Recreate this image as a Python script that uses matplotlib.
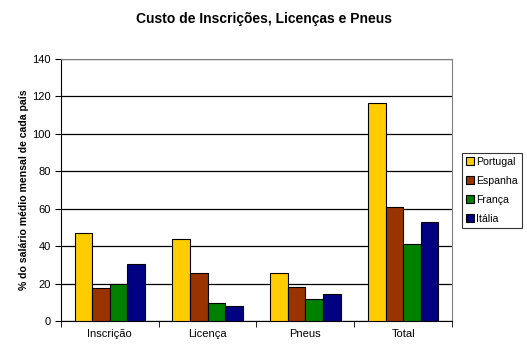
import numpy as np
import matplotlib
matplotlib.use('Agg')
import matplotlib.pyplot as plt

plt.rcParams['font.family'] = ['Liberation Sans', 'DejaVu Sans']

categorias = ['Inscrição', 'Licença', 'Pneus', 'Total']
paises = ['Portugal', 'Espanha', 'França', 'Itália']
portugal = [46.9, 43.7, 25.5, 116.3]
espanha = [17.5, 25.5, 18.0, 60.8]
franca = [19.6, 9.5, 11.6, 41.0]
italia = [30.3, 7.9, 14.3, 52.8]
cores = ['#FFCC00', '#993300', '#008000', '#000080']

series = [portugal, espanha, franca, italia]

fig = plt.figure(figsize=(5.27, 3.51), dpi=100)
ax = fig.add_axes([0.1157, 0.0855, 0.742, 0.7465])

x = np.arange(len(categorias))
w = 0.18
for i, s in enumerate(series):
    ax.bar(x + (i - 1.5) * w, s, w, color=cores[i], edgecolor='black',
           linewidth=0.8, label=paises[i], zorder=3)

ax.set_xlim(-0.5, 3.5)
ax.set_ylim(0, 140)
ax.set_yticks(range(0, 141, 20))
ax.yaxis.grid(True, color='black', linewidth=0.9, zorder=0)
ax.set_xticks(x)
ax.set_xticklabels(categorias)
ax.set_xticks(np.arange(-0.5, 4, 1), minor=True)
ax.tick_params(axis='x', which='major', length=0, labelsize=8, pad=6)
ax.tick_params(axis='x', which='minor', length=4, direction='out')
ax.tick_params(axis='y', length=4, direction='out', labelsize=8)

for sp in ['top', 'right']:
    ax.spines[sp].set_color('#808080')
for sp in ['left', 'bottom']:
    ax.spines[sp].set_color('black')

ax.set_ylabel('% do salário médio mensal de cada país', fontsize=7.6,
              fontweight='bold', labelpad=2)
fig.suptitle('Custo de Inscrições, Licenças e Pneus', fontsize=10,
             fontweight='bold', y=0.965)

leg = ax.legend(loc='upper left', bbox_to_anchor=(1.026, 0.643), fontsize=7.6,
                frameon=True, fancybox=False, edgecolor='black',
                handlelength=0.75, handleheight=0.75, handletextpad=0.2,
                borderpad=0.4, labelspacing=0.85, borderaxespad=0)
leg.get_frame().set_linewidth(0.8)

fig.savefig('out.png', dpi=100)
